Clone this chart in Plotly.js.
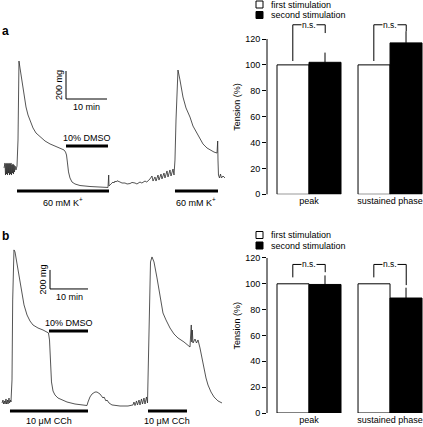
<!DOCTYPE html>
<html><head><meta charset="utf-8">
<script src="https://cdn.plot.ly/plotly-3.0.1.min.js"></script>
<style>html,body{margin:0;padding:0;background:#fff;overflow:hidden}</style>
</head><body><div id="chart" style="width:423px;height:427px"></div>
<script>
// ---------- Panel a: isometric tension trace (time in min, tension in mg) ----------
const timeA = [0.98,1.22,1.34,1.46,1.59,1.71,1.83,1.95,2.07,2.20,2.32,2.44,2.56,2.68,2.80,2.93,3.05,3.17,3.29,3.41,3.54,3.66,3.90,4.15,
  4.39,4.51,4.63,4.88,5.37,5.85,6.34,6.83,7.32,8.05,8.78,9.76,10.98,12.20,13.41,14.63,15.61,15.98,16.22,16.46,16.71,17.07,17.56,18.29,19.51,21.95,24.39,26.34,
  26.51,26.59,27.07,27.56,27.80,28.05,28.29,28.54,29.27,29.76,30.49,31.00,31.71,32.20,32.93,33.40,34.15,34.60,35.37,35.80,36.59,
  37.07,37.32,37.80,38.05,38.54,38.78,39.27,39.51,40.00,40.24,40.73,40.98,41.46,41.71,42.20,42.44,
  42.68,42.93,43.17,43.41,43.90,44.63,45.37,46.34,47.07,48.05,48.78,49.51,50.49,51.22,52.20,52.93,53.10,53.17,53.29,53.54,53.78,54.02,54.39,54.88];
const tensionA = [157,193,107,186,114,193,107,186,121,193,107,186,114,193,107,179,121,186,114,179,129,171,143,171,
  357,643,921,871,771,679,593,536,493,443,407,379,350,329,314,300,286,271,250,193,129,86,57,43,32,25,21,18,
  107,29,43,57,50,64,57,66,57,50,50,43,46,54,50,43,57,50,64,57,79,
  100,64,93,64,107,71,114,79,121,86,136,93,143,100,150,107,
  214,500,750,857,786,664,586,521,457,407,364,329,300,286,271,264,350,214,107,86,114,86,100,86];
const stimStartA = [4.15, 42.68], stimEndA = [26.59, 53.17];
const stimLabelA = '60 mM K<sup>+</sup>';
const dmsoA = [16.1, 26.34];

// ---------- Panel b ----------
const timeB = [0.53,0.79,0.92,1.18,1.32,1.58,1.71,1.97,2.11,2.37,2.50,2.76,2.89,
  3.16,3.34,3.55,3.68,3.95,4.21,4.74,5.26,5.79,6.32,7.11,7.89,8.68,10.00,11.32,12.76,
  13.03,13.29,13.55,13.95,14.47,15.26,16.32,17.63,19.74,22.89,
  23.16,23.68,24.21,25.00,25.53,26.32,27.11,27.37,27.89,28.16,28.68,29.47,31.58,33.68,35.00,
  35.26,35.53,35.92,36.18,36.58,36.84,37.24,37.50,37.89,38.16,38.55,38.82,
  38.95,39.21,39.61,40.00,40.53,41.32,42.11,42.89,43.68,44.74,45.79,46.84,48.42,50.00,
  50.18,50.34,50.47,50.61,50.79,51.32,51.71,52.11,52.63,53.16,53.68,54.21,54.74,55.53,56.32,57.37,58.42];
const tensionB = [32,63,21,53,21,74,21,63,21,84,32,63,42,
  274,1116,1580,1643,1622,1558,1432,1306,1169,1064,958,895,853,821,800,769,
  695,484,253,158,116,84,63,42,21,5,
  42,95,126,147,147,126,84,95,53,63,32,11,0,0,11,
  42,5,53,11,63,11,74,21,84,21,95,32,
  274,1116,1516,1569,1516,1348,1137,979,906,821,758,716,674,621,
  747,853,674,800,663,705,663,695,611,505,390,295,221,147,95,53,32];
const stimStartB = [2.63, 38.95], stimEndB = [23.16, 49.21];
const stimLabelB = '10 μM CCh';
const dmsoB = [12.9, 23.16];

// ---------- Bar charts (% of first stimulation) ----------
const categories = ['peak', 'sustained phase'];
const seriesNames = ['first stimulation', 'second stimulation'];
const firstA = [100, 100];
const secondA = [102, 117];
const errA = [7.5, 9];
const firstB = [100, 100];
const secondB = [99.5, 89];
const errB = [7, 8];
const yTicks = [0, 20, 40, 60, 80, 100, 120];
// n.s. brackets [left-leg bottom, top, right-leg bottom]
const nsA = [[103, 131, 124.6], [103, 131, 126]];
const nsB = [[105, 115, 109], [105, 115, 99]];

// ---------- layout helpers ----------
const W = 423, H = 427;
const fx = p => p / W, fy = p => 1 - p / H;
const FONT = 'Liberation Sans, Arial, sans-serif';
const K = '#000';
const YMAX = 135;

const traces = [
  {type:'scatter', mode:'lines', x:timeA, y:tensionA, xaxis:'x', yaxis:'y', line:{color:'#2a2a2a', width:0.8}, showlegend:false, hoverinfo:'skip'},
  {type:'scatter', mode:'lines', x:timeB, y:tensionB, xaxis:'x3', yaxis:'y3', line:{color:'#2a2a2a', width:0.8}, showlegend:false, hoverinfo:'skip'},
  {type:'bar', name:seriesNames[0], x:[0,1], y:firstA, xaxis:'x2', yaxis:'y2', marker:{color:'#fff', line:{color:K, width:1}}, showlegend:false},
  {type:'bar', name:seriesNames[1], x:[0,1], y:secondA, xaxis:'x2', yaxis:'y2', marker:{color:K, line:{color:K, width:1}}, showlegend:false,
   error_y:{type:'data', symmetric:false, array:errA, arrayminus:[0,0], color:K, thickness:1, width:0}},
  {type:'bar', name:seriesNames[0], x:[0,1], y:firstB, xaxis:'x4', yaxis:'y4', marker:{color:'#fff', line:{color:K, width:1}}, showlegend:false},
  {type:'bar', name:seriesNames[1], x:[0,1], y:secondB, xaxis:'x4', yaxis:'y4', marker:{color:K, line:{color:K, width:1}}, showlegend:false,
   error_y:{type:'data', symmetric:false, array:errB, arrayminus:[0,0], color:K, thickness:1, width:0}}
];
function bracket(ns, xa, ya) {
  ns.forEach((b, i) => {
    traces.push({type:'scatter', mode:'lines', x:[i-0.2, i-0.2, i+0.2, i+0.2], y:[b[0], b[1], b[1], b[2]],
      xaxis:xa, yaxis:ya, line:{color:K, width:1}, showlegend:false, hoverinfo:'skip'});
  });
}
bracket(nsA, 'x2', 'y2');
bracket(nsB, 'x4', 'y4');

const hidden = {visible:false, showgrid:false, zeroline:false, fixedrange:true, autorange:false};
const barX = {range:[-0.5185, 1.407], tickvals:[0,1], ticktext:categories, ticks:'', showline:false, showgrid:false, zeroline:false,
  tickfont:{size:9, family:FONT, color:K}};
const barY = {range:[0,YMAX], autorange:false, tickvals:yTicks, ticks:'outside', ticklen:4, tickwidth:1, tickcolor:K,
  showline:false, showgrid:false, zeroline:false, tickfont:{size:9, family:FONT, color:K},
  title:{text:'Tension (%)', font:{size:9, family:FONT, color:K}, standoff:3}};

const domA = [fy(194.3), fy(19.6)], domB = [fy(413), fy(238.6)];
const layout = {
  width:W, height:H, margin:{l:0, r:0, t:0, b:0}, paper_bgcolor:'#fff', plot_bgcolor:'rgba(0,0,0,0)',
  font:{family:FONT, size:9, color:K},
  barmode:'group', bargap:0.21, bargroupgap:0,
  xaxis: Object.assign({domain:[0, fx(230)], range:[0, 56.1], anchor:'y'}, hidden),
  yaxis: Object.assign({domain:[fy(200), fy(40)], range:[-71.4, 1071.4], anchor:'x'}, hidden),
  xaxis3: Object.assign({domain:[0, fx(230)], range:[0, 60.53], anchor:'y3'}, hidden),
  yaxis3: Object.assign({domain:[fy(420), fy(240)], range:[-147.4, 1747.4], anchor:'x3'}, hidden),
  xaxis2: Object.assign({domain:[fx(267), 1], anchor:'y2'}, barX),
  yaxis2: Object.assign({domain:domA, anchor:'x2'}, barY),
  xaxis4: Object.assign({domain:[fx(267), 1], anchor:'y4'}, barX),
  yaxis4: Object.assign({domain:domB, anchor:'x4'}, barY),
  shapes:[], annotations:[]
};
const S = layout.shapes, A = layout.annotations;
function ann(o) { A.push(Object.assign({showarrow:false, font:{size:9, family:FONT, color:K}}, o)); }

function tracePanel(xa, ya, starts, ends, stimY, label, dmso, dmsoY, scaleT, scaleMg) {
  starts.forEach((s, i) => {
    S.push({type:'line', xref:xa, yref:ya, x0:s, x1:ends[i], y0:stimY, y1:stimY, line:{color:K, width:3}});
    ann({xref:xa, yref:ya, x:(s+ends[i])/2, y:stimY, yanchor:'top', yshift:-3, text:label});
  });
  S.push({type:'line', xref:xa, yref:ya, x0:dmso[0], x1:dmso[1], y0:dmsoY, y1:dmsoY, line:{color:K, width:3}});
  ann({xref:xa, yref:ya, x:(dmso[0]+dmso[1])/2, y:dmsoY, yanchor:'bottom', yshift:1, text:'10% DMSO'});
  // scale bar: 10 min x 200 mg
  S.push({type:'line', xref:xa, yref:ya, x0:scaleT, x1:scaleT, y0:scaleMg, y1:scaleMg+200, line:{color:K, width:1}});
  S.push({type:'line', xref:xa, yref:ya, x0:scaleT, x1:scaleT+10, y0:scaleMg, y1:scaleMg, line:{color:K, width:1}});
  ann({xref:xa, yref:ya, x:scaleT+5, y:scaleMg, yanchor:'top', yshift:-1, text:'10 min'});
  ann({xref:xa, yref:ya, x:scaleT, y:scaleMg+100, xanchor:'center', xshift:-7, textangle:-90, text:'200 mg'});
}
tracePanel('x', 'y', stimStartA, stimEndA, -7, stimLabelA, dmsoA, 314, 16.1, 650);
tracePanel('x3', 'y3', stimStartB, stimEndB, -53, stimLabelB, dmsoB, 790, 13.16, 1232);

// panel letters
ann({xref:'paper', yref:'paper', x:fx(0), y:fy(31.5), xanchor:'left', yanchor:'middle', text:'<b>a</b>', font:{size:12, family:FONT, color:K}});
ann({xref:'paper', yref:'paper', x:fx(0), y:fy(236), xanchor:'left', yanchor:'middle', text:'<b>b</b>', font:{size:12, family:FONT, color:K}});

// per-panel legends
function legend(top) {
  S.push({type:'rect', xref:'paper', yref:'paper', x0:fx(256), x1:fx(263), y0:fy(top+7), y1:fy(top), fillcolor:'#fff', line:{color:K, width:1}});
  S.push({type:'rect', xref:'paper', yref:'paper', x0:fx(256), x1:fx(263), y0:fy(top+17.5), y1:fy(top+10.5), fillcolor:K, line:{color:K, width:1}});
  ann({xref:'paper', yref:'paper', x:fx(269), y:fy(top+3.5), xanchor:'left', yanchor:'middle', text:seriesNames[0]});
  ann({xref:'paper', yref:'paper', x:fx(269), y:fy(top+14), xanchor:'left', yanchor:'middle', text:seriesNames[1]});
}
legend(1);
legend(231.5);

// value -> paper through the bar axes' linear scale
const v2p = (v, dom) => dom[0] + (v / YMAX) * (dom[1] - dom[0]);
const xDom = [fx(267), 1];
function barFurniture(ns, dom) {
  // y axis line only up to the last tick
  S.push({type:'line', xref:'paper', yref:'paper', x0:xDom[0], x1:xDom[0], y0:v2p(0, dom), y1:v2p(yTicks[yTicks.length-1], dom), line:{color:K, width:1}});
  ns.forEach((b, i) => {
    const xp = xDom[0] + ((i + 0.5185) / 1.9255) * (xDom[1] - xDom[0]);
    ann({xref:'paper', yref:'paper', x:xp, y:v2p(b[1], dom), xanchor:'center', yanchor:'middle', text:'n.s.', bgcolor:'#fff', borderpad:0,
      font:{size:8.5, family:FONT, color:K}});
  });
}
barFurniture(nsA, domA);
barFurniture(nsB, domB);

Plotly.newPlot('chart', traces, layout, {displayModeBar:false, staticPlot:true});
</script>
</body></html>
